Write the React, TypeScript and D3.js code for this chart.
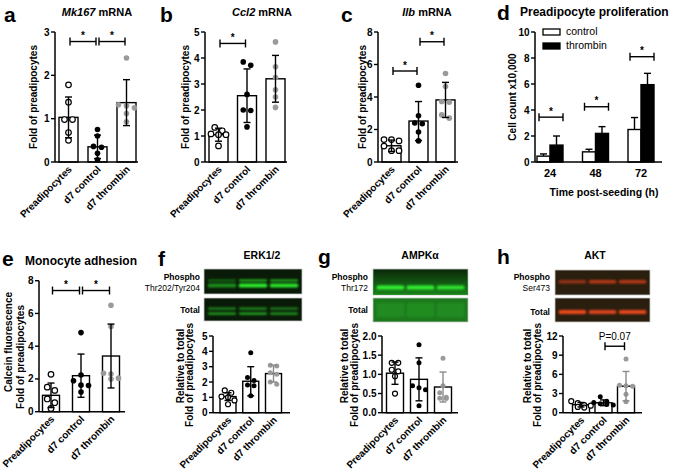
import React from "react";
import * as d3 from "d3";

const groups = ["Preadipocytes", "d7 control", "d7 thrombin"];

// a: Mk167 mRNA
const mkMeans = [1.03, 0.35, 1.37];
const mkUpper = [1.5, 0.62, 1.9];
const mkPoints = [[1.78, 1.38, 0.98, 0.98, 0.68, 0.5], [0.75, 0.6, 0.36, 0.34, 0.2, 0.05], [2.4, 1.32, 1.3, 1.25, 1.12, 0.93]];
const mkTicks = [0, 1, 2, 3];
const mkSig = [[0, 1, 2.78], [1, 2, 2.78]];

// b: Ccl2 mRNA
const ccMeans = [1.05, 2.55, 3.2];
const ccUpper = [1.3, 3.58, 4.1];
const ccPoints = [[1.33, 1.2, 1.08, 1.05, 1.05, 0.62], [3.85, 3.72, 2.6, 2.0, 1.98, 1.35], [4.62, 3.66, 3.25, 2.78, 2.5, 2.1]];
const ccTicks = [0, 1, 2, 3, 4, 5];
const ccSig = [[0, 1, 4.56]];

// c: Ilb mRNA
const ilMeans = [1.0, 2.52, 3.82];
const ilUpper = [1.35, 3.72, 4.9];
const ilPoints = [[1.38, 1.38, 1.3, 0.98, 0.7, 0.7], [4.72, 2.85, 2.4, 2.35, 1.85, 1.3], [5.45, 4.65, 3.72, 3.68, 2.9, 2.7]];
const ilTicks = [0, 2, 4, 6, 8];
const ilSig = [[0, 1, 5.6], [1, 2, 7.4]];

// d: proliferation
const timeCats = ["24", "48", "72"];
const ctrlMeans = [0.45, 0.78, 2.5];
const ctrlUpper = [0.62, 0.98, 3.42];
const thrMeans = [1.3, 2.2, 5.95];
const thrUpper = [2.0, 2.72, 6.82];
const profTicks = [0, 2, 4, 6, 8, 10];
const profSig = [3.45, 4.25, 8.1];

// e: monocyte adhesion
const moMeans = [1.0, 2.2, 3.4];
const moUpper = [1.75, 3.52, 5.35];
const moPoints = [[2.28, 1.5, 1.3, 0.78, 0.55, 0.2], [4.83, 2.24, 1.89, 1.62, 1.6, 1.2], [6.5, 5.2, 2.35, 2.3, 2.05, 2.0]];
const moTicks = [0, 2, 4, 6, 8];
const moSig = [[0, 1, 7.4], [1, 2, 7.4]];

// f: ERK1/2
const erkMeans = [1.05, 2.05, 2.55];
const erkUpper = [1.3, 3.0, 3.1];
const erkPoints = [[1.45, 1.3, 1.05, 1.0, 0.8, 0.55], [3.9, 2.3, 2.1, 1.8, 1.75, 1.1], [3.1, 3.05, 2.6, 2.5, 2.0, 1.85]];
const erkTicks = [0, 1, 2, 3, 4, 5];

// g: AMPKα
const ampkMeans = [1.03, 0.87, 0.67];
const ampkUpper = [1.32, 1.43, 1.06];
const ampkPoints = [[1.3, 1.3, 1.12, 1.08, 0.95, 0.5], [1.77, 1.3, 0.7, 0.65, 0.6, 0.18], [1.42, 0.7, 0.52, 0.4, 0.38, 0.37]];
const ampkTicks = [0, 0.5, 1.0, 1.5, 2.0];

// h: AKT
const aktMeans = [1.25, 1.55, 4.15];
const aktUpper = [1.6, 2.0, 6.45];
const aktPoints = [[1.8, 1.5, 1.2, 1.1, 0.9, 0.8], [2.5, 1.8, 1.6, 1.4, 1.3, 1.2], [8.4, 4.3, 4.2, 4.15, 2.9, 1.7]];
const aktTicks = [0, 3, 6, 9, 12];
const aktSig = [[1, 2, 10.4]];

// western blot lane intensities
const erkPhosphoLanes = [0.55, 1, 0.95];
const erkTotalLanes = [0.75, 0.8, 0.7];
const ampkPhosphoLanes = [1, 1, 0.9];
const ampkTotalLanes = [0.35, 0.4, 0.35];
const aktPhosphoLanes = [0.6, 0.8, 0.8];
const aktTotalLanes = [1, 0.9, 0.95];

const FONT = "'Liberation Sans', Arial, sans-serif";
const PT_COLORS = ["#ffffff", "#000000", "#9a9a9a"];

function swarm(vals: number[], y: (v: number) => number, r: number, step: number) {
  const sorted = vals.map((v) => ({ v, py: y(v) })).sort((a, b) => a.py - b.py);
  const rows: { v: number; py: number }[][] = [];
  for (const p of sorted) {
    const last = rows[rows.length - 1];
    if (last && p.py - last[0].py < 2 * r) last.push(p);
    else rows.push([p]);
  }
  const out: { dx: number; py: number }[] = [];
  rows.forEach((row) => row.forEach((p, i) => out.push({ dx: (i - (row.length - 1) / 2) * step, py: p.py })));
  return out;
}

type BarProps = {
  ax0: number; ax1: number; y0: number; yTop: number; max: number;
  c0: number; c2: number; barW: number;
  ticks: number[]; fmt?: (v: number) => string;
  means: number[]; upper: number[]; points: number[][];
  sig?: number[][]; sigLabel?: string; grayErr?: boolean;
  r?: number; step?: number;
};

function BarPanel(p: BarProps) {
  const y = d3.scaleLinear().domain([0, p.max]).range([p.y0, p.yTop]);
  const x = d3.scalePoint<string>().domain(groups).range([p.c0, p.c2]);
  const r = p.r ?? 2.8;
  const step = p.step ?? 7.5;
  const fmt = p.fmt ?? ((v: number) => String(v));
  const cap = 3.5;
  return (
    <g>
      {groups.map((g, i) => {
        const cx = x(g)!;
        return (
          <rect key={"b" + i} x={cx - p.barW / 2} y={y(p.means[i])} width={p.barW} height={p.y0 - y(p.means[i])}
            fill="#fff" stroke="#000" strokeWidth={1.4} />
        );
      })}
      {groups.map((g, i) => {
        const cx = x(g)!;
        const pts = swarm(p.points[i], y, r, step);
        return (
          <g key={"p" + i}>
            {pts.map((q, k) => (
              <circle key={k} cx={cx + q.dx} cy={q.py} r={r} fill={PT_COLORS[i]}
                stroke={i === 0 ? "#000" : "none"} strokeWidth={1.2} />
            ))}
          </g>
        );
      })}
      {groups.map((g, i) => {
        const cx = x(g)!;
        const lo = 2 * p.means[i] - p.upper[i];
        const col = p.grayErr && i === 2 ? "#8a8a8a" : "#000";
        return (
          <g key={"e" + i} stroke={col} strokeWidth={1.4}>
            <line x1={cx} x2={cx} y1={y(p.upper[i])} y2={y(Math.max(lo, 0))} />
            <line x1={cx - cap} x2={cx + cap} y1={y(p.upper[i])} y2={y(p.upper[i])} />
            {lo > 0 && <line x1={cx - cap} x2={cx + cap} y1={y(lo)} y2={y(lo)} />}
          </g>
        );
      })}
      <line x1={p.ax0} x2={p.ax0} y1={p.y0} y2={p.yTop} stroke="#000" strokeWidth={1.5} />
      <line x1={p.ax0} x2={p.ax1} y1={p.y0} y2={p.y0} stroke="#000" strokeWidth={1.5} />
      {p.ticks.map((t) => (
        <g key={"t" + t}>
          <line x1={p.ax0 - 4} x2={p.ax0} y1={y(t)} y2={y(t)} stroke="#000" strokeWidth={1.4} />
          <text x={p.ax0 - 5.5} y={y(t)} dy="0.35em" textAnchor="end" fontSize={10} fontWeight="bold" fontFamily={FONT}>{fmt(t)}</text>
        </g>
      ))}
      {groups.map((g, i) => (
        <text key={"l" + i} transform={`translate(${x(g)! + 4},${p.y0 + 8}) rotate(-45)`} textAnchor="end"
          fontSize={10} fontWeight="bold" fontFamily={FONT}>{g}</text>
      ))}
      {(p.sig ?? []).map((s, k) => {
        const xa = x(groups[s[0]])! + 1.5;
        const xb = x(groups[s[1]])! - 1.5;
        const yy = y(s[2]);
        return (
          <g key={"s" + k}>
            <g stroke="#000" strokeWidth={1.4}>
              <line x1={xa} x2={xb} y1={yy} y2={yy} />
              <line x1={xa} x2={xa} y1={yy - 4} y2={yy + 4} />
              <line x1={xb} x2={xb} y1={yy - 4} y2={yy + 4} />
            </g>
            <text x={(xa + xb) / 2} y={yy - (p.sigLabel ? 6 : 2.5)} textAnchor="middle"
              fontSize={10} fontWeight={p.sigLabel ? "normal" : "bold"} fontFamily={FONT}>{p.sigLabel ?? "*"}</text>
          </g>
        );
      })}
    </g>
  );
}

function YLabel({ x, y, text, size = 10 }: { x: number; y: number; text: string; size?: number }) {
  return (
    <text transform={`translate(${x},${y}) rotate(-90)`} textAnchor="middle" dominantBaseline="central"
      fontSize={size} fontWeight="bold" fontFamily={FONT}>{text}</text>
  );
}

function Letter({ x, y, t }: { x: number; y: number; t: string }) {
  return <text x={x} y={y} fontSize={21} fontWeight="bold" fontFamily={FONT}>{t}</text>;
}

function Blot({ x, y, w, h, bg, color, lanes, bandYs, bandHs, id, glow }:
  { x: number; y: number; w: number; h: number; bg: string; color: string; lanes: number[]; bandYs: number[]; bandHs: number[]; id: string; glow?: string }) {
  const lx = d3.scaleBand<number>().domain(lanes.map((_, i) => i)).range([x, x + w]).paddingInner(0.08).paddingOuter(0.12);
  return (
    <g>
      <defs>
        <filter id={id} x="-20%" y="-100%" width="140%" height="300%">
          <feGaussianBlur stdDeviation="1.1" />
        </filter>
        <linearGradient id={id + "g"} x1="0" x2="0" y1="0" y2="1">
          <stop offset="0" stopColor={glow ?? bg} stopOpacity={0} />
          <stop offset="1" stopColor={glow ?? bg} stopOpacity={0.8} />
        </linearGradient>
        <clipPath id={id + "c"}><rect x={x} y={y} width={w} height={h} /></clipPath>
      </defs>
      <rect x={x} y={y} width={w} height={h} fill={bg} stroke="#c8c8c8" strokeWidth={0.8} />
      <g clipPath={`url(#${id}c)`}>
        {glow && <rect x={x} y={y} width={w} height={h} fill={`url(#${id}g)`} />}
        {lanes.map((v, i) => (
          <g key={i} filter={`url(#${id})`}>
            {bandYs.map((by, j) => (
              <rect key={j} x={lx(i)!} y={by} width={lx.bandwidth()} height={bandHs[j]} rx={1.5}
                fill={color} opacity={v * (j === bandYs.length - 1 ? 1 : 0.8)} />
            ))}
          </g>
        ))}
      </g>
    </g>
  );
}

function BlotLabel({ x, y, bold, text }: { x: number; y: number; bold: boolean; text: string }) {
  return <text x={x} y={y} textAnchor="end" fontSize={8.5} fontWeight={bold ? "bold" : "normal"} fontFamily={FONT}>{text}</text>;
}

function Title({ x, y, children, size = 11 }: { x: number; y: number; children: React.ReactNode; size?: number }) {
  return <text x={x} y={y} textAnchor="middle" fontSize={size} fontWeight="bold" fontFamily={FONT}>{children}</text>;
}

function ProlifPanel() {
  const ax0 = 535, ax1 = 662, y0 = 162, yTop = 32;
  const y = d3.scaleLinear().domain([0, 10]).range([y0, yTop]);
  const x = d3.scalePoint<string>().domain(timeCats).range([550, 641]);
  const bw = 13;
  const cap = 3.5;
  return (
    <g>
      {timeCats.map((t, i) => {
        const c = x(t)!;
        return (
          <g key={t}>
            <g stroke="#000" strokeWidth={1.4}>
              <line x1={c - bw / 2} x2={c - bw / 2} y1={y(ctrlMeans[i])} y2={y(ctrlUpper[i])} />
              <line x1={c - bw / 2 - cap} x2={c - bw / 2 + cap} y1={y(ctrlUpper[i])} y2={y(ctrlUpper[i])} />
              <line x1={c + bw / 2} x2={c + bw / 2} y1={y(thrMeans[i])} y2={y(thrUpper[i])} />
              <line x1={c + bw / 2 - cap} x2={c + bw / 2 + cap} y1={y(thrUpper[i])} y2={y(thrUpper[i])} />
            </g>
            <rect x={c - bw} y={y(ctrlMeans[i])} width={bw} height={y0 - y(ctrlMeans[i])} fill="#fff" stroke="#000" strokeWidth={1.4} />
            <rect x={c} y={y(thrMeans[i])} width={bw} height={y0 - y(thrMeans[i])} fill="#000" stroke="#000" strokeWidth={1.4} />
            <g stroke="#000" strokeWidth={1.4}>
              <line x1={c - bw + 2} x2={c + bw} y1={y(profSig[i])} y2={y(profSig[i])} />
              <line x1={c - bw + 2} x2={c - bw + 2} y1={y(profSig[i]) - 4} y2={y(profSig[i]) + 4} />
              <line x1={c + bw} x2={c + bw} y1={y(profSig[i]) - 4} y2={y(profSig[i]) + 4} />
            </g>
            <text x={c + 1} y={y(profSig[i]) - 2.5} textAnchor="middle" fontSize={10} fontWeight="bold" fontFamily={FONT}>*</text>
            <text x={c} y={y0 + 15} textAnchor="middle" fontSize={11} fontWeight="bold" fontFamily={FONT}>{t}</text>
          </g>
        );
      })}
      <line x1={ax0} x2={ax0} y1={y0} y2={yTop} stroke="#000" strokeWidth={1.5} />
      <line x1={ax0} x2={ax1} y1={y0} y2={y0} stroke="#000" strokeWidth={1.5} />
      {profTicks.map((t) => (
        <g key={t}>
          <line x1={ax0 - 4} x2={ax0} y1={y(t)} y2={y(t)} stroke="#000" strokeWidth={1.4} />
          <text x={ax0 - 5.5} y={y(t)} dy="0.35em" textAnchor="end" fontSize={10} fontWeight="bold" fontFamily={FONT}>{t}</text>
        </g>
      ))}
      <rect x={543} y={29} width={17} height={6} fill="#fff" stroke="#000" strokeWidth={1.3} />
      <text x={566} y={35} fontSize={10.5} fontFamily={FONT}>control</text>
      <rect x={543} y={43} width={17} height={6} fill="#000" stroke="#000" strokeWidth={1.3} />
      <text x={566} y={49} fontSize={10.5} fontFamily={FONT}>thrombin</text>
      <YLabel x={512} y={97} text="Cell count x10,000" />
      <text x={604} y={196} textAnchor="middle" fontSize={10.5} fontWeight="bold" fontFamily={FONT}>Time post-seeding (h)</text>
    </g>
  );
}

export default function App() {
  return (
    <svg width={676} height={475} style={{ position: "absolute", left: 0, top: 0, background: "#fff" }}>
      <rect x={0} y={0} width={676} height={475} fill="#fff" />
      {/* a */}
      <Letter x={4} y={22} t="a" />
      <Title x={97} y={16}><tspan fontStyle="italic">Mk167</tspan> mRNA</Title>
      <YLabel x={33} y={97} text="Fold of preadipocytes" />
      <BarPanel ax0={55} ax1={138} y0={162} yTop={32} max={3} c0={68.5} c2={126.5} barW={19}
        ticks={mkTicks} means={mkMeans} upper={mkUpper} points={mkPoints} sig={mkSig} step={8} />
      {/* b */}
      <Letter x={160} y={22} t="b" />
      <Title x={262} y={16}><tspan fontStyle="italic">Ccl2</tspan> mRNA</Title>
      <YLabel x={185} y={97} text="Fold of preadipocytes" />
      <BarPanel ax0={205} ax1={287} y0={162} yTop={32} max={5} c0={218.5} c2={275.5} barW={19}
        ticks={ccTicks} means={ccMeans} upper={ccUpper} points={ccPoints} sig={ccSig} />
      {/* c */}
      <Letter x={341} y={22} t="c" />
      <Title x={427} y={16}><tspan fontStyle="italic">Ilb</tspan> mRNA</Title>
      <YLabel x={362} y={97} text="Fold of preadipocytes" />
      <BarPanel ax0={378} ax1={458} y0={162} yTop={32} max={8} c0={391.5} c2={445.5} barW={19}
        ticks={ilTicks} means={ilMeans} upper={ilUpper} points={ilPoints} sig={ilSig} />
      {/* d */}
      <Letter x={497} y={20} t="d" />
      <text x={520} y={16} fontSize={12} fontWeight="bold" fontFamily={FONT}>Preadipocyte proliferation</text>
      <ProlifPanel />
      {/* e */}
      <Letter x={2} y={266} t="e" />
      <text x={25} y={265} fontSize={12} fontWeight="bold" fontFamily={FONT}>Monocyte adhesion</text>
      <YLabel x={8} y={342} text="Calcein fluorescence" />
      <YLabel x={20} y={357} text="Fold of preadipocytes" />
      <BarPanel ax0={39} ax1={125} y0={411.7} yTop={280.7} max={8} c0={51} c2={111} barW={17}
        ticks={moTicks} means={moMeans} upper={moUpper} points={moPoints} sig={moSig} />
      {/* f */}
      <Letter x={158} y={266} t="f" />
      <Title x={262} y={259} size={10.5}>ERK1/2</Title>
      <Blot id="erkP" x={204} y={269} w={98} h={25} bg="#0a1a08" color="#2cf02c" lanes={erkPhosphoLanes} bandYs={[279.5, 283.5]} bandHs={[2, 4]} />
      <Blot id="erkT" x={204} y={298} w={98} h={23} bg="#0a1a08" color="#2ad82a" lanes={erkTotalLanes} bandYs={[307.5, 312.5]} bandHs={[2.2, 2.2]} />
      <BlotLabel x={200} y={280} bold text="Phospho" />
      <BlotLabel x={200} y={291} bold={false} text="Thr202/Tyr204" />
      <BlotLabel x={200} y={313} bold text="Total" />
      <YLabel x={180} y={366} text="Relative to total" />
      <YLabel x={189} y={375} text="Fold of preadipocytes" />
      <BarPanel ax0={213} ax1={290} y0={412.7} yTop={336} max={5} c0={228} c2={273.5} barW={16}
        ticks={erkTicks} means={erkMeans} upper={erkUpper} points={erkPoints} grayErr r={2.5} step={6.5} />
      {/* g */}
      <Letter x={318} y={264} t="g" />
      <Title x={420} y={259} size={10.5}>AMPKα</Title>
      <Blot id="ampkP" x={373} y={269} w={95} h={26} bg="#0a260a" color="#30f030" glow="#1e9a1e" lanes={ampkPhosphoLanes} bandYs={[285.5]} bandHs={[4]} />
      <Blot id="ampkT" x={373} y={298} w={95} h={24} bg="#1c7a1c" color="#2aa82a" lanes={ampkTotalLanes} bandYs={[303]} bandHs={[14]} />
      <BlotLabel x={368} y={280} bold text="Phospho" />
      <BlotLabel x={368} y={291} bold={false} text="Thr172" />
      <BlotLabel x={368} y={313} bold text="Total" />
      <YLabel x={344} y={366} text="Relative to total" />
      <YLabel x={354} y={375} text="Fold of preadipocytes" />
      <BarPanel ax0={382} ax1={458} y0={412.7} yTop={336} max={2} c0={395} c2={443} barW={17}
        ticks={ampkTicks} fmt={(v) => v.toFixed(1)} means={ampkMeans} upper={ampkUpper} points={ampkPoints} grayErr r={2.5} step={6.5} />
      {/* h */}
      <Letter x={497} y={264} t="h" />
      <Title x={595} y={259} size={10.5}>AKT</Title>
      <Blot id="aktP" x={555} y={270} w={95} h={25} bg="#2a1e0e" color="#d8401c" lanes={aktPhosphoLanes} bandYs={[280]} bandHs={[3.5]} />
      <Blot id="aktT" x={555} y={298} w={95} h={24} bg="#2a1e0e" color="#f0481e" lanes={aktTotalLanes} bandYs={[310]} bandHs={[4]} />
      <BlotLabel x={550} y={280} bold text="Phospho" />
      <BlotLabel x={550} y={291} bold={false} text="Ser473" />
      <BlotLabel x={550} y={315} bold text="Total" />
      <YLabel x={527} y={366} text="Relative to total" />
      <YLabel x={537} y={375} text="Fold of preadipocytes" />
      <BarPanel ax0={563} ax1={642} y0={412.7} yTop={336} max={12} c0={581} c2={626} barW={17}
        ticks={aktTicks} means={aktMeans} upper={aktUpper} points={aktPoints} sig={aktSig} sigLabel="P=0.07" grayErr r={2.5} step={6.5} />
    </svg>
  );
}
